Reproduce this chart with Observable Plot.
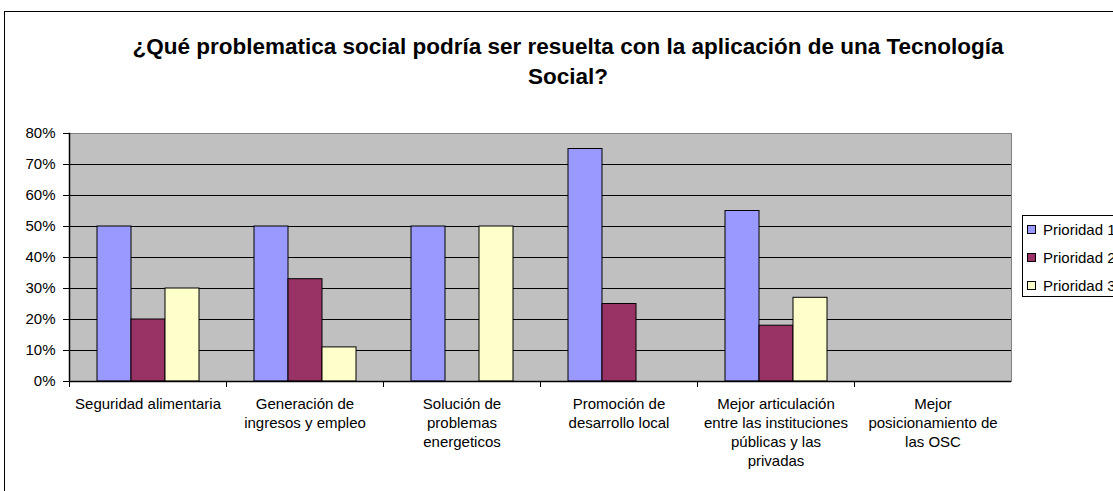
<!DOCTYPE html>
<html><head><meta charset="utf-8">
<script src="https://cdn.jsdelivr.net/npm/d3@7"></script>
<script src="https://cdn.jsdelivr.net/npm/@observablehq/plot@0.6"></script>
<style>
html,body{margin:0;padding:0;width:1113px;height:491px;overflow:hidden;background:#fff;font-family:"Liberation Sans",Arial,sans-serif;}
#wrap{position:relative;width:1113px;height:491px;overflow:hidden;}
#border{position:absolute;left:4px;top:11px;width:1300px;height:700px;border:1.5px solid #000;box-sizing:border-box;}
#title{position:absolute;left:0;top:32px;width:1136px;text-align:center;font-weight:bold;font-size:22.5px;line-height:30px;color:#000;}
#chart{position:absolute;left:0;top:113px;}
#legend{position:absolute;left:1022px;top:215px;width:140px;height:82px;border:1px solid #000;background:#fff;box-sizing:border-box;font-size:15px;}
.item{position:absolute;left:4px;height:16px;line-height:16px;white-space:nowrap;}
.sw{display:inline-block;width:7px;height:7px;border:1px solid #000;margin-right:7px;vertical-align:1px;}
</style></head>
<body><div id="wrap">
<div id="border"></div>
<div id="title">¿Qué problematica social podría ser resuelta con la aplicación de una Tecnología<br>Social?</div>
<div id="chart"></div>
<div id="legend"></div>
</div>
<script>
const categories = ["Seguridad alimentaria","Generación de ingresos y empleo","Solución de problemas energeticos","Promoción de desarrollo local","Mejor articulación entre las instituciones públicas y las privadas","Mejor posicionamiento de las OSC"];
const tickLabels = ["Seguridad alimentaria","Generación de\ningresos y empleo","Solución de\nproblemas\nenergeticos","Promoción de\ndesarrollo local","Mejor articulación\nentre las instituciones\npúblicas y las\nprivadas","Mejor\nposicionamiento de\nlas OSC"];
const series = ["Prioridad 1","Prioridad 2","Prioridad 3"];
const prioridad1 = [0.50,0.50,0.50,0.75,0.55,0];
const prioridad2 = [0.20,0.33,0,0.25,0.18,0];
const prioridad3 = [0.30,0.11,0.50,0,0.27,0];
const colors = ["#9999FF","#993366","#FFFFCC"];
const yTicks = [0,0.1,0.2,0.3,0.4,0.5,0.6,0.7,0.8];

const values = [prioridad1, prioridad2, prioridad3];
const data = [];
categories.forEach((c,i)=>series.forEach((s,j)=>data.push({category:c, serie:s, value:values[j][i]})));
const labelOf = Object.fromEntries(categories.map((c,i)=>[c,tickLabels[i]]));

const chart = Plot.plot({
  width:1113, height:378,
  marginTop:20, marginBottom:110, marginLeft:69, marginRight:102,
  style:{fontFamily:'"Liberation Sans",Arial,sans-serif', fontSize:"15px", color:"#000", background:"transparent"},
  fx:{domain:categories, padding:0, label:null},
  x:{domain:series, paddingInner:0, paddingOuter:0.75, axis:null},
  y:{domain:[0,0.8], label:null},
  color:{domain:series, range:colors},
  marks:[
    Plot.frame({fill:"#C0C0C0", stroke:null, shapeRendering:"crispEdges"}),
    Plot.ruleY(yTicks.slice(1,8), {stroke:"#000", strokeWidth:1}),
    Plot.ruleY([0.8], {stroke:"#808080", strokeWidth:1}),
    Plot.frame({anchor:"right", facetAnchor:"right", stroke:"#808080"}),
    Plot.barY(data.filter(d=>d.value>0), {fx:"category", x:"serie", y:"value", fill:"serie", stroke:"#000", strokeWidth:1}),
    Plot.ruleY([0], {stroke:"#000", strokeWidth:1.5}),
    Plot.frame({anchor:"left", facetAnchor:"left", stroke:"#000", strokeWidth:1.5}),
    Plot.axisY({ticks:yTicks, tickSize:6, tickPadding:8, tickFormat:d3.format(".0%"), fontSize:15, stroke:"#000", label:null}),
    Plot.axisFx({anchor:"bottom", tickSize:6, dx:-78.5, text:null, stroke:"#000", label:null}),
    Plot.text(categories, {fx:d=>d, text:d=>labelOf[d], frameAnchor:"bottom", lineAnchor:"top", dy:14, lineHeight:1.27, fontSize:15, fill:"#000"})
  ]
});
document.getElementById("chart").appendChild(chart);

const legend = document.getElementById("legend");
series.forEach((s,j)=>{
  const it = document.createElement("div");
  it.className="item";
  it.style.top = (6 + j*28) + "px";
  it.innerHTML = `<span class="sw" style="background:${colors[j]}"></span>${s}`;
  legend.appendChild(it);
});
</script>
</body></html>
